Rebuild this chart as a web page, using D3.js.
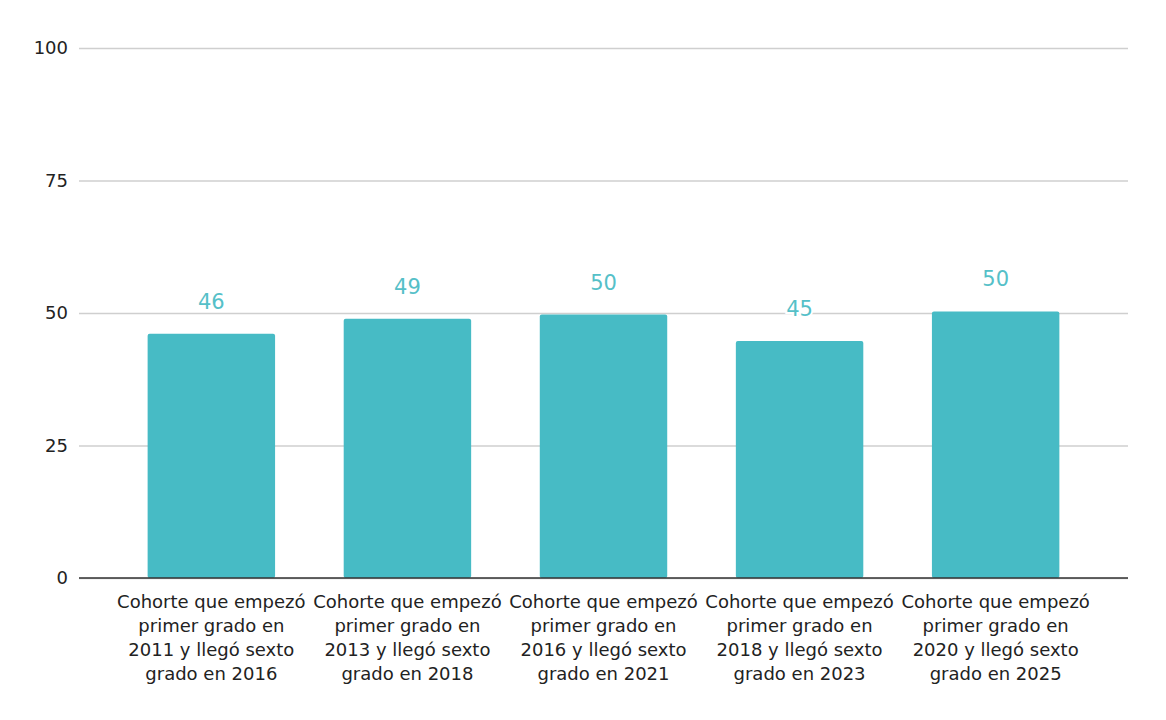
<!DOCTYPE html>
<html>
<head>
<meta charset="utf-8">
<script src="https://cdn.jsdelivr.net/npm/d3@7"></script>
<style>
  html, body { margin: 0; padding: 0; background: #fff; }
  svg { display: block; font-family: "DejaVu Sans", Verdana, sans-serif; }
</style>
</head>
<body>
<svg id="chart" width="1166" height="720"></svg>
<script>

// ##################################################
// #  Data                                          #
// ##################################################

const categories = [
    'Cohorte que empezó primer grado en 2011 y llegó sexto grado en 2016',
    'Cohorte que empezó primer grado en 2013 y llegó sexto grado en 2018',
    'Cohorte que empezó primer grado en 2016 y llegó sexto grado en 2021',
    'Cohorte que empezó primer grado en 2018 y llegó sexto grado en 2023',
    'Cohorte que empezó primer grado en 2020 y llegó sexto grado en 2025'
];
const categoryLines = [
    ['Cohorte que empezó', 'primer grado en', '2011 y llegó sexto', 'grado en 2016'],
    ['Cohorte que empezó', 'primer grado en', '2013 y llegó sexto', 'grado en 2018'],
    ['Cohorte que empezó', 'primer grado en', '2016 y llegó sexto', 'grado en 2021'],
    ['Cohorte que empezó', 'primer grado en', '2018 y llegó sexto', 'grado en 2023'],
    ['Cohorte que empezó', 'primer grado en', '2020 y llegó sexto', 'grado en 2025']
];
const values = [46.1, 48.9, 49.7, 44.7, 50.3];
const yTicks = [0, 25, 50, 75, 100];

// ##################################################
// #  Chart                                         #
// ##################################################

const margin = {top: 48, right: 38, bottom: 142, left: 79};
const width = 1166, height = 720;
const fontFamily = '"DejaVu Sans", Verdana, sans-serif';

const svg = d3.select('#chart');

const x = d3.scaleBand()
    .domain(categories)
    .range([margin.left, width - margin.right])
    .padding(0.35);

const y = d3.scaleLinear()
    .domain([0, 100])
    .range([height - margin.bottom, margin.top]);

// gridlines + y labels
const yAxis = svg.append('g')
    .attr('transform', `translate(${margin.left},0)`)
    .call(d3.axisLeft(y)
        .tickValues(yTicks)
        .tickSize(-(width - margin.left - margin.right))
        .tickPadding(11))
    .attr('font-family', fontFamily)
    .attr('font-size', 18);

yAxis.select('.domain').remove();
yAxis.selectAll('.tick line')
    .attr('stroke', '#cfcfcf')
    .attr('stroke-width', 1.3);
yAxis.selectAll('.tick text')
    .attr('fill', '#222');

// bars
svg.append('g')
    .selectAll('rect')
    .data(values)
    .join('rect')
    .attr('x', (d, i) => x(categories[i]))
    .attr('y', d => y(d))
    .attr('width', x.bandwidth())
    .attr('height', d => y(0) - y(d))
    .attr('rx', 2)
    .attr('fill', '#47bbc5');

// baseline
svg.append('line')
    .attr('x1', margin.left)
    .attr('x2', width - margin.right)
    .attr('y1', y(0))
    .attr('y2', y(0))
    .attr('stroke', '#333')
    .attr('stroke-width', 1.5);

// value labels with white halo
svg.append('g')
    .selectAll('text')
    .data(values)
    .join('text')
    .attr('x', (d, i) => x(categories[i]) + x.bandwidth() / 2)
    .attr('y', d => y(d) - 25)
    .attr('text-anchor', 'middle')
    .attr('font-size', 21)
    .attr('fill', '#55c0c8')
    .attr('stroke', '#fff')
    .attr('stroke-width', 4)
    .attr('paint-order', 'stroke')
    .text(d => Math.round(d));

// category labels
const catGroup = svg.append('g')
    .selectAll('text')
    .data(categoryLines)
    .join('text')
    .attr('x', (d, i) => x(categories[i]) + x.bandwidth() / 2)
    .attr('y', y(0) + 30)
    .attr('text-anchor', 'middle')
    .attr('font-size', 18)
    .attr('fill', '#222');

catGroup.selectAll('tspan')
    .data(d => d)
    .join('tspan')
    .attr('x', function () { return d3.select(this.parentNode).attr('x'); })
    .attr('dy', (d, i) => i === 0 ? 0 : 24)
    .text(d => d);

</script>
</body>
</html>
